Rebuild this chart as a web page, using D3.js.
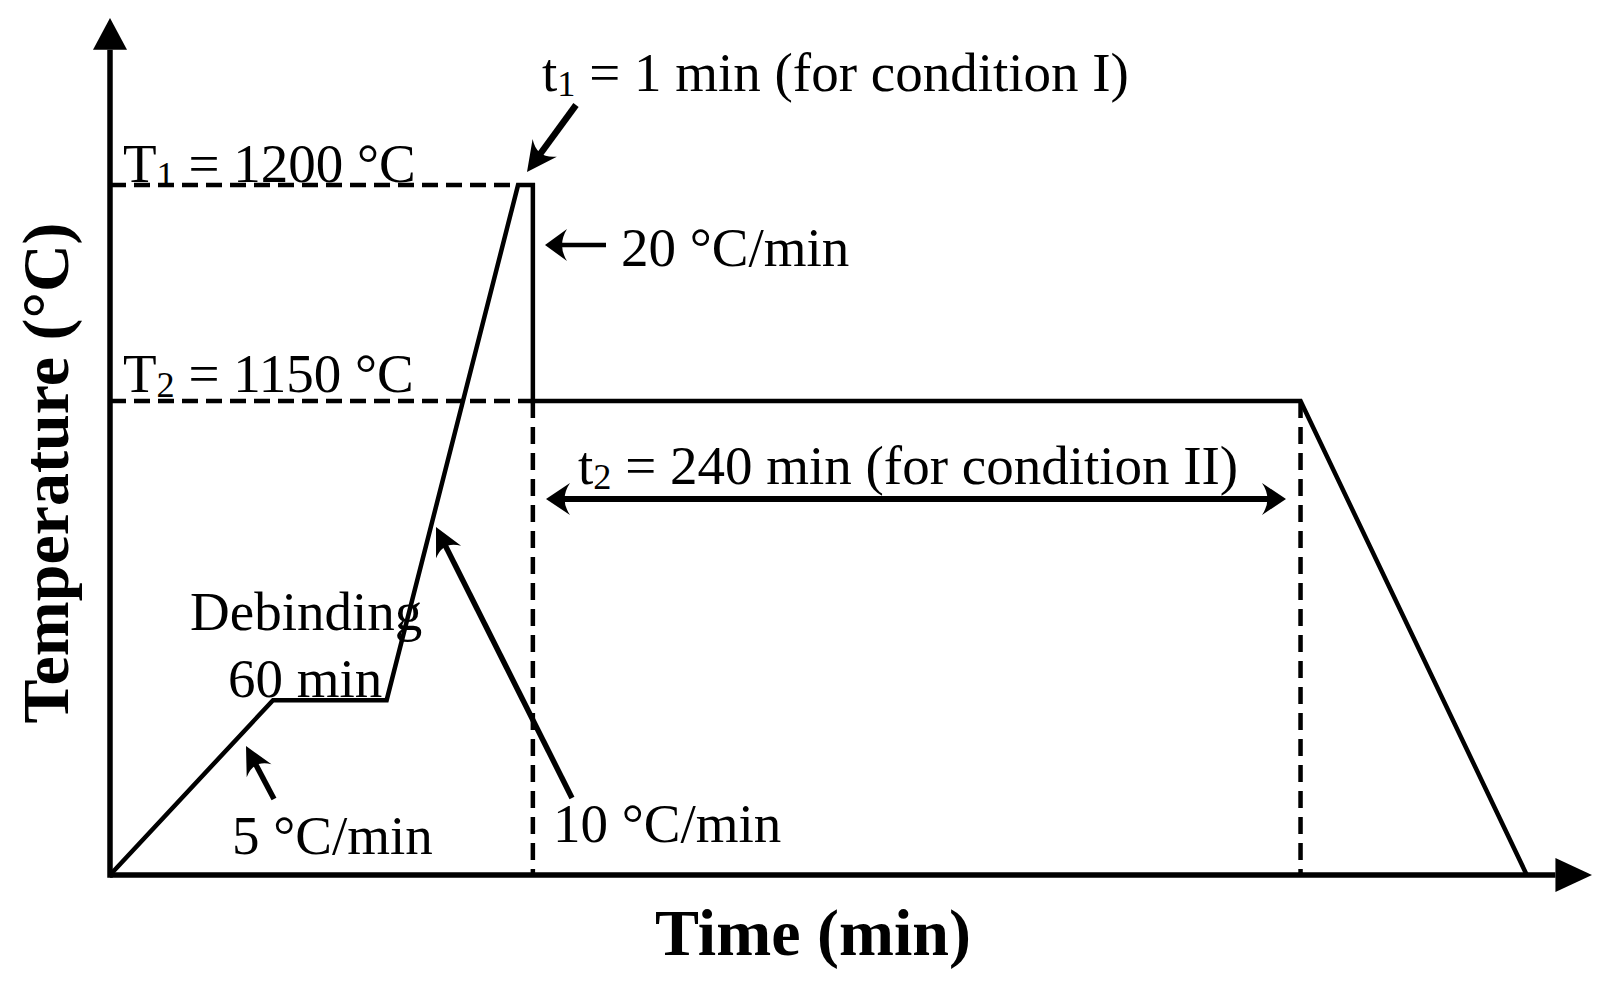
<!DOCTYPE html>
<html>
<head>
<meta charset="utf-8">
<script src="https://cdn.jsdelivr.net/npm/d3@7"></script>
<style>
  html, body { margin: 0; padding: 0; background: #fff; }
  svg { display: block; }
  text { font-family: "Liberation Serif", "Times New Roman", serif; fill: #000; white-space: pre; }
</style>
</head>
<body>
<svg id="chart" width="1614" height="984"></svg>
<script>
// Schematic heat-treatment profile (diagram units, not to scale)
const profileTime = [0, 16.5, 28.0, 41.3, 42.8, 42.8, 120.5, 143.4];
const profileTemp = [0, 20.4, 20.4, 80.5, 80.5, 55.3, 55.3, 0];
// Reference levels (dashed guides)
const levelNames = ["T1", "T2"];
const levelValues = ["1200", "1150"];
const levelY = [80.5, 55.3];
const levelEndX = [41.3, 42.8];
// Vertical dashed guides
const guideX = [42.8, 120.5];
const guideTop = [55.3, 55.3];

const svg = d3.select("#chart");
const x = d3.scaleLinear().domain([0, 150]).range([110, 1592]);
const y = d3.scaleLinear().domain([0, 100]).range([875, 18]);

// dashed horizontal guides
levelY.forEach((lv, i) => {
  svg.append("line")
    .attr("x1", x(0)).attr("x2", x(levelEndX[i]))
    .attr("y1", y(lv)).attr("y2", y(lv))
    .attr("stroke", "#000").attr("stroke-width", 4.5)
    .attr("stroke-dasharray", "16,8");
});
// dashed vertical guides
guideX.forEach((gx, i) => {
  svg.append("line")
    .attr("x1", x(gx)).attr("x2", x(gx))
    .attr("y1", y(guideTop[i])).attr("y2", y(0))
    .attr("stroke", "#000").attr("stroke-width", 4.5)
    .attr("stroke-dasharray", "17,9");
});

// profile line
const pts = profileTime.map((t, i) => [t, profileTemp[i]]);
svg.append("path")
  .datum(pts)
  .attr("d", d3.line().x(d => x(d[0])).y(d => y(d[1])))
  .attr("fill", "none").attr("stroke", "#000").attr("stroke-width", 4.5)
  .attr("stroke-linejoin", "miter");

// axes
const xAxisEnd = 146.3, yAxisEnd = 96.3;
svg.append("line").attr("x1", x(0)).attr("x2", x(xAxisEnd))
  .attr("y1", y(0)).attr("y2", y(0)).attr("stroke", "#000").attr("stroke-width", 5.5);
svg.append("line").attr("x1", x(0)).attr("x2", x(0))
  .attr("y1", y(0) + 2.75).attr("y2", y(yAxisEnd)).attr("stroke", "#000").attr("stroke-width", 5.5);
// axis arrowheads
svg.append("path")
  .attr("d", `M${x(150)},${y(0)} L${x(xAxisEnd)},${y(0) - 17} L${x(xAxisEnd)},${y(0) + 17} Z`)
  .attr("fill", "#000");
svg.append("path")
  .attr("d", `M${x(0)},${y(100)} L${x(0) - 17},${y(yAxisEnd)} L${x(0) + 17},${y(yAxisEnd)} Z`)
  .attr("fill", "#000");

// arrow helper (filled concave arrowhead)
function head(hx, hy, tx, ty, L, W) {
  const a = Math.atan2(hy - ty, hx - tx) * 180 / Math.PI;
  svg.append("path")
    .attr("transform", `translate(${hx},${hy}) rotate(${a})`)
    .attr("d", `M0,0 L${-L},${-W} Q${-L * 0.55},0 ${-L},${W} Z`)
    .attr("fill", "#000");
}
function arrow(x1, y1, x2, y2, w, L, W, both) {
  const dx = x2 - x1, dy = y2 - y1, len = Math.hypot(dx, dy);
  const ux = dx / len, uy = dy / len, inset = L * 0.5;
  const sx = both ? x1 + ux * inset : x1, sy = both ? y1 + uy * inset : y1;
  svg.append("line").attr("x1", sx).attr("y1", sy)
    .attr("x2", x2 - ux * inset).attr("y2", y2 - uy * inset)
    .attr("stroke", "#000").attr("stroke-width", w);
  head(x2, y2, x1, y1, L, W);
  if (both) head(x1, y1, x2, y2, L, W);
}

arrow(576, 105, 527, 172, 6.5, 30, 15, false);      // t1
arrow(606, 245, 545, 245, 4.5, 22, 16, false);      // 20 °C/min
arrow(546, 499, 1286, 499, 6, 24, 16, true);        // t2 span
arrow(274, 799, 246, 746, 5.5, 28, 14, false);      // 5 °C/min
arrow(572, 798, 436, 527, 5.5, 28, 14, false);      // 10 °C/min

// text helper with subscript
function subText(px, py, main, sub, rest, size) {
  const t = svg.append("text").attr("x", px).attr("y", py).attr("font-size", size);
  t.append("tspan").text(main);
  t.append("tspan").attr("font-size", size * 0.66).attr("dy", 5).text(sub);
  t.append("tspan").attr("dy", -5).text(rest);
  return t;
}
const FS = 55;
levelNames.forEach((n, i) => {
  subText(123, [182, 392][i], n[0], n[1], " = " + levelValues[i] + " °C", FS);
});
subText(542, 91, "t", "1", " = 1 min (for condition I)", FS);
subText(578, 484, "t", "2", " = 240 min (for condition II)", FS);

function plain(px, py, s, size) {
  return svg.append("text").attr("x", px).attr("y", py).attr("font-size", size).text(s);
}
plain(621, 266, "20 °C/min", FS);
plain(190, 630, "Debinding", FS);
plain(228, 697, "60 min", FS);
plain(232, 854, "5 °C/min", FS);
plain(553, 842, "10 °C/min", FS);

// axis titles
svg.append("text").attr("x", 813).attr("y", 955)
  .attr("text-anchor", "middle").attr("font-size", 66).attr("font-weight", "bold")
  .text("Time (min)");
svg.append("text")
  .attr("transform", "translate(68,473) rotate(-90)")
  .attr("text-anchor", "middle").attr("font-size", 66).attr("font-weight", "bold")
  .text("Temperature (°C)");
</script>
</body>
</html>
